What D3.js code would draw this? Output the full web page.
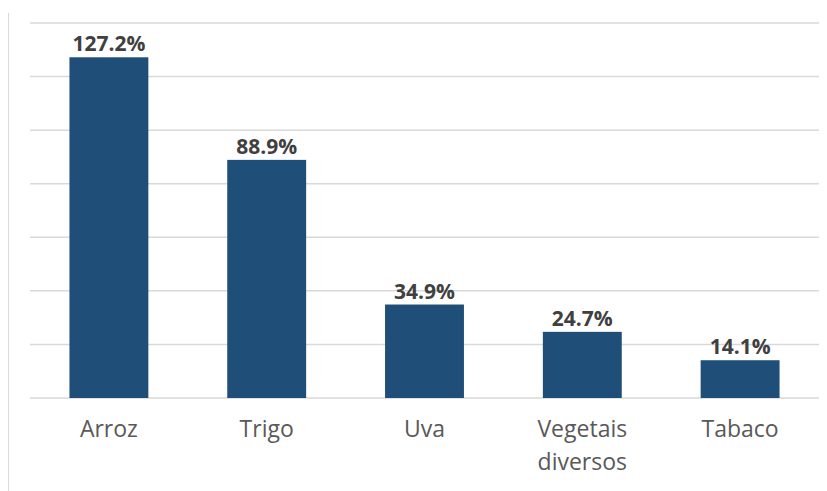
<!DOCTYPE html>
<html>
<head>
<meta charset="utf-8">
<script src="https://cdn.jsdelivr.net/npm/d3@7"></script>
<style>
  body { margin: 0; background: #fff; }
  svg { display: block; font-family: "Open Sans", sans-serif; }
</style>
</head>
<body>
<script>
(function (d3) {
    "use strict";

    /***** Data *****/
    var categories = ["Arroz", "Trigo", "Uva", "Vegetais diversos", "Tabaco"];
    var categoryLines = [["Arroz"], ["Trigo"], ["Uva"], ["Vegetais", "diversos"], ["Tabaco"]];
    var values = [127.2, 88.9, 34.9, 24.7, 14.1];
    var yTicks = [0, 20, 40, 60, 80, 100, 120, 140];

    /***** Configuration *****/
    var width = 827, height = 491;
    var margin = { top: 23, right: 8, bottom: 93, left: 30 };
    var chartWidth = width - margin.left - margin.right;
    var chartHeight = height - margin.top - margin.bottom;

    var svg = d3.select("body").append("svg")
        .attr("width", width)
        .attr("height", height);

    // left frame line
    svg.append("line")
        .attr("x1", 8.5).attr("x2", 8.5)
        .attr("y1", 13).attr("y2", height)
        .attr("stroke", "#d9d9d9").attr("stroke-width", 1);

    var g = svg.append("g")
        .attr("transform", "translate(" + margin.left + "," + margin.top + ")");

    /***** Scales *****/
    var xScale = d3.scaleBand().domain(categories).range([0, chartWidth]).paddingInner(0.5).paddingOuter(0.25);
    var yScale = d3.scaleLinear().domain([0, 140]).range([chartHeight, 0]);

    // gridlines
    g.selectAll(".grid")
        .data(yTicks)
        .enter().append("line")
        .attr("class", "grid")
        .attr("x1", 0).attr("x2", chartWidth)
        .attr("y1", function (d) { return yScale(d); })
        .attr("y2", function (d) { return yScale(d); })
        .attr("stroke", "#d9d9d9").attr("stroke-width", 1.5);

    // bars
    g.selectAll(".bar")
        .data(values)
        .enter().append("rect")
        .attr("class", "bar")
        .attr("x", function (d, i) { return xScale(categories[i]); })
        .attr("width", xScale.bandwidth())
        .attr("y", function (d) { return yScale(d); })
        .attr("height", function (d) { return chartHeight - yScale(d); })
        .attr("fill", "#1f4e79");

    // value labels
    g.selectAll(".val")
        .data(values)
        .enter().append("text")
        .attr("class", "val")
        .attr("x", function (d, i) { return xScale(categories[i]) + xScale.bandwidth() / 2; })
        .attr("y", function (d) { return yScale(d) - 6; })
        .attr("text-anchor", "middle")
        .attr("font-size", "21px")
        .attr("font-weight", "bold")
        .attr("fill", "#404040")
        .text(function (d) { return d.toFixed(1) + "%"; });

    // category labels
    var xAxis = g.append("g").attr("transform", "translate(0," + chartHeight + ")");
    xAxis.selectAll("text")
        .data(categoryLines)
        .enter().append("text")
        .attr("x", function (d, i) { return xScale(categories[i]) + xScale.bandwidth() / 2; })
        .attr("y", 39)
        .attr("text-anchor", "middle")
        .attr("font-size", "23px")
        .attr("fill", "#595959")
        .each(function (lines) {
            var t = d3.select(this);
            lines.forEach(function (line, j) {
                t.append("tspan")
                    .attr("x", t.attr("x"))
                    .attr("dy", j === 0 ? 0 : 33)
                    .text(line);
            });
        });

})(d3);
</script>
</body>
</html>
